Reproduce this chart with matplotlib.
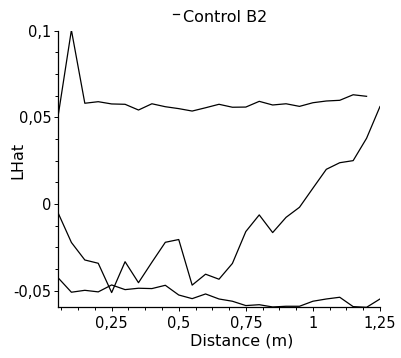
import numpy as np
import matplotlib
matplotlib.use('Agg')
import matplotlib.pyplot as plt
from matplotlib.ticker import FixedLocator, MultipleLocator, FuncFormatter
from matplotlib.lines import Line2D

# distancias (m)
distance = [0.05, 0.10, 0.15, 0.20, 0.25, 0.30, 0.35, 0.40, 0.45, 0.50,
            0.55, 0.60, 0.65, 0.70, 0.75, 0.80, 0.85, 0.90, 0.95, 1.00,
            1.05, 1.10, 1.15, 1.20, 1.25]

# envelope superior (termina em 1,2)
upper = [0.0503, 0.1003, 0.0581, 0.0590, 0.0577, 0.0575, 0.0542, 0.0578,
         0.0561, 0.0550, 0.0536, 0.0555, 0.0575, 0.0558, 0.0559, 0.0592,
         0.0571, 0.0578, 0.0563, 0.0584, 0.0594, 0.0598, 0.0630, 0.0621]

# LHat observado
observed = [-0.0050, -0.0222, -0.0323, -0.0342, -0.0511, -0.0333, -0.0454,
            -0.0336, -0.0221, -0.0205, -0.0468, -0.0405, -0.0434, -0.0343,
            -0.0159, -0.0063, -0.0165, -0.0077, -0.0019, 0.0091, 0.0200,
            0.0238, 0.0250, 0.0379, 0.0562]

# envelope inferior
lower = [-0.0425, -0.0509, -0.0498, -0.0507, -0.0467, -0.0494, -0.0486,
         -0.0488, -0.0469, -0.0525, -0.0546, -0.0519, -0.0548, -0.0561,
         -0.0586, -0.0581, -0.0594, -0.0590, -0.0590, -0.0561, -0.0548,
         -0.0538, -0.0592, -0.0596, -0.0548]

x_major = [0.25, 0.5, 0.75, 1.0, 1.25]
y_major = [-0.05, 0.0, 0.05, 0.1]


def comma(v, pos=None):
    s = '{:g}'.format(round(v, 4))
    return s.replace('.', ',')


fig = plt.figure(figsize=(4.01, 3.58), dpi=100, facecolor='white')
ax = fig.add_axes([0.1446, 0.1416, 0.803, 0.7729])

ax.plot(distance[:len(upper)], upper, color='black', lw=0.9)
ax.plot(distance, observed, color='black', lw=0.9)
ax.plot(distance, lower, color='black', lw=0.9)

ax.set_xlim(0.05, 1.25)
ax.set_ylim(-0.0596, 0.1)

ax.xaxis.set_major_locator(FixedLocator(x_major))
ax.xaxis.set_minor_locator(MultipleLocator(0.0625))
ax.yaxis.set_major_locator(FixedLocator(y_major))
ax.yaxis.set_minor_locator(MultipleLocator(0.0125))
ax.xaxis.set_major_formatter(FuncFormatter(comma))
ax.yaxis.set_major_formatter(FuncFormatter(comma))

for s in ['top', 'right']:
    ax.spines[s].set_visible(False)
for s in ['left', 'bottom']:
    ax.spines[s].set_linewidth(0.9)

ax.tick_params(which='major', length=3, width=0.7, labelsize=10.5)
ax.tick_params(which='minor', length=2.5, width=0.7)
ax.tick_params(axis='x', which='major', pad=3.5)
ax.tick_params(axis='y', which='major', pad=1.5)

ax.set_xlabel('Distance (m)', fontsize=11.5)
ax.set_ylabel('LHat', fontsize=11.5)
ax.xaxis.set_label_coords(0.57, -0.095)
ax.yaxis.set_label_coords(-0.102, 0.53)

# titulo com pequeno traço de legenda
fig.text(225 / 401, 1 - 18 / 358, 'Control B2', ha='center', va='center',
         fontsize=11.5)
fig.add_artist(Line2D([173 / 401, 179 / 401], [1 - 13.5 / 358, 1 - 13.5 / 358],
                      color='black', lw=0.9, transform=fig.transFigure))

fig.savefig('out.png', dpi=100, facecolor='white')
